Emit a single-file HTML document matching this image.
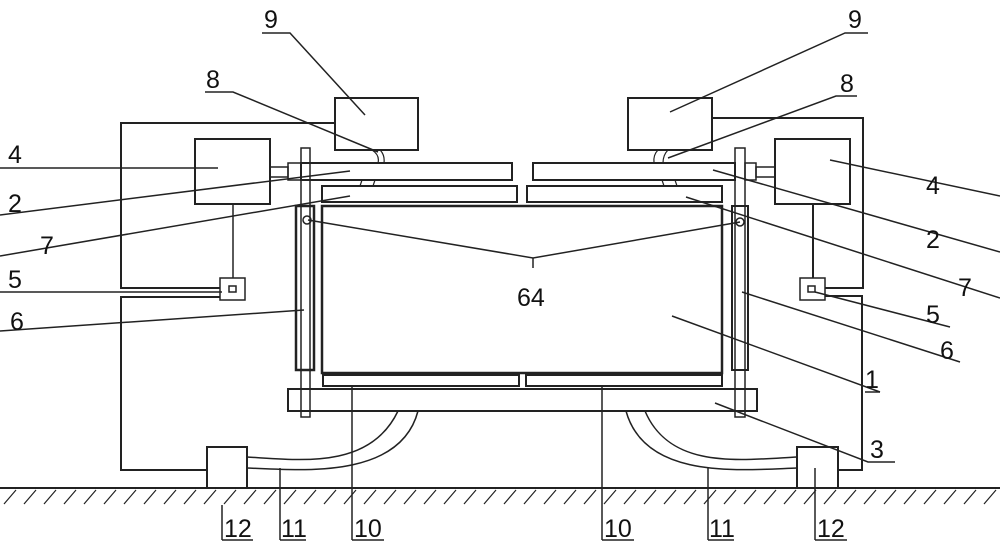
<!DOCTYPE html>
<html><head><style>html,body{margin:0;padding:0;background:#fff}svg{display:block}text{font-family:"Liberation Sans",sans-serif;font-size:25px;fill:#111}</style></head>
<body>
<svg width="1000" height="552" viewBox="0 0 1000 552" xmlns="http://www.w3.org/2000/svg">
<g fill="none" stroke="#222" stroke-width="2">
<!-- frames -->
<polyline points="335,123 121,123 121,288 220,288"/>
<polyline points="220,297 121,297 121,470 207,470"/>
<polyline points="712,118 863,118 863,288 825,288"/>
<polyline points="825,296 862,296 862,470 838,470"/>
<!-- boxes 9 -->
<rect x="335" y="98" width="83" height="52"/>
<rect x="628" y="98" width="84" height="52"/>
<!-- boxes 4 -->
<rect x="195" y="139" width="75" height="65"/>
<rect x="775" y="139" width="75" height="65"/>
<!-- shafts -->
<rect x="270" y="167" width="18" height="10" stroke-width="1.5"/>
<rect x="756" y="167" width="19" height="10" stroke-width="1.5"/>
<!-- collars -->
<rect x="288" y="163" width="13" height="17" stroke-width="1.5"/>
<rect x="745" y="163" width="11" height="17" stroke-width="1.5"/>
<!-- plates 2 -->
<rect x="301" y="163" width="211" height="17"/>
<rect x="533" y="163" width="202" height="17"/>
<!-- plates 7 -->
<rect x="322" y="186" width="195" height="16"/>
<rect x="527" y="186" width="195" height="16"/>
<!-- main box -->
<rect x="322" y="206" width="400" height="167" stroke-width="2.5"/>
<!-- plates 10 -->
<rect x="323" y="375" width="196" height="11"/>
<rect x="526" y="375" width="196" height="11"/>
<!-- base 3 -->
<rect x="288" y="389" width="469" height="22"/>
<!-- rods -->
<rect x="301" y="148" width="9" height="269" stroke-width="1.5"/>
<rect x="735" y="148" width="10" height="269" stroke-width="1.5"/>
<!-- cylinders 6 -->
<rect x="296" y="206" width="18" height="164" stroke-width="2.5"/>
<rect x="732" y="206" width="16" height="164" stroke-width="2"/>
<circle cx="307" cy="220" r="4" stroke-width="1.5"/>
<circle cx="740" cy="222" r="4" stroke-width="1.5"/>
<!-- wires -->
<line x1="233" y1="204" x2="233" y2="278" stroke-width="1.5"/>
<line x1="813" y1="204" x2="813" y2="278" stroke-width="2"/>
<!-- boxes 5 -->
<rect x="220" y="278" width="25" height="22" stroke-width="1.5"/>
<rect x="229" y="286" width="7" height="6" stroke-width="1.5"/>
<rect x="800" y="278" width="25" height="22" stroke-width="1.5"/>
<rect x="808" y="286" width="7" height="6" stroke-width="1.5"/>
<!-- boxes 12 -->
<rect x="207" y="447" width="40" height="41"/>
<rect x="797" y="447" width="41" height="41"/>
<!-- hoses 11 -->
<path d="M398,411 C370,470 300,460 247,457" stroke-width="1.5"/>
<path d="M418,411 C400,480 300,470 247,468" stroke-width="1.5"/>
<path d="M626,411 C645,480 740,470 797,468" stroke-width="1.5"/>
<path d="M645,411 C670,470 740,460 797,457" stroke-width="1.5"/>
<!-- small hose links -->
<path d="M372,150 q8,5 6,13 M380,150 q5,5 4,13 M362,180 l-2,6 M375,180 l-2,6" stroke-width="1.2"/>
<path d="M658,150 q-5,5 -4,13 M668,150 q-5,5 -5,13 M662,180 l2,6 M675,180 l2,6" stroke-width="1.2"/>
<!-- ground -->
<line x1="0" y1="488" x2="1000" y2="488"/>
</g>
<g stroke="#222" stroke-width="1.2" id="hatch">
<path d="M4,504 l12,-14 M24,504 l12,-14 M44,504 l12,-14 M64,504 l12,-14 M84,504 l12,-14 M104,504 l12,-14 M124,504 l12,-14 M144,504 l12,-14 M164,504 l12,-14 M184,504 l12,-14 M204,504 l12,-14 M224,504 l12,-14 M244,504 l12,-14 M264,504 l12,-14 M284,504 l12,-14 M304,504 l12,-14 M324,504 l12,-14 M344,504 l12,-14 M364,504 l12,-14 M384,504 l12,-14 M404,504 l12,-14 M424,504 l12,-14 M444,504 l12,-14 M464,504 l12,-14 M484,504 l12,-14 M504,504 l12,-14 M524,504 l12,-14 M544,504 l12,-14 M564,504 l12,-14 M584,504 l12,-14 M604,504 l12,-14 M624,504 l12,-14 M644,504 l12,-14 M664,504 l12,-14 M684,504 l12,-14 M704,504 l12,-14 M724,504 l12,-14 M744,504 l12,-14 M764,504 l12,-14 M784,504 l12,-14 M804,504 l12,-14 M824,504 l12,-14 M844,504 l12,-14 M864,504 l12,-14 M884,504 l12,-14 M904,504 l12,-14 M924,504 l12,-14 M944,504 l12,-14 M964,504 l12,-14 M984,504 l12,-14"/>
</g>
<!-- leader lines -->
<g fill="none" stroke="#222" stroke-width="1.5">
<polyline points="262,33 290,33 365,115"/>
<polyline points="205,92 233,92 378,152"/>
<polyline points="0,168 218,168"/>
<polyline points="0,215 350,171"/>
<polyline points="0,256 350,196"/>
<polyline points="0,292 222,292"/>
<polyline points="0,331 304,310"/>
<polyline points="868,33 845,33 670,112"/>
<polyline points="857,96 836,96 668,158"/>
<polyline points="1000,196 830,160"/>
<polyline points="1000,252 713,170"/>
<polyline points="1000,298 686,197"/>
<polyline points="950,327 815,292"/>
<polyline points="960,362 742,292"/>
<polyline points="880,392 672,316"/>
<polyline points="895,462 868,462 715,403"/>
<polyline points="308,220 533,258 740,222"/>
<line x1="533" y1="258" x2="533" y2="268"/>
<polyline points="222,540 222,505"/>
<polyline points="280,540 280,468"/>
<polyline points="352,540 352,386"/>
<polyline points="602,540 602,386"/>
<polyline points="708,540 708,468"/>
<polyline points="815,540 815,468"/>
<line x1="222" y1="540" x2="253" y2="540"/><line x1="280" y1="540" x2="306" y2="540"/>
<line x1="352" y1="540" x2="384" y2="540"/><line x1="602" y1="540" x2="634" y2="540"/>
<line x1="708" y1="540" x2="734" y2="540"/><line x1="815" y1="540" x2="847" y2="540"/>
<line x1="865" y1="392" x2="880" y2="392"/>
</g>
<text x="264" y="28">9</text>
<text x="206" y="88">8</text>
<text x="8" y="163">4</text>
<text x="8" y="212">2</text>
<text x="40" y="254">7</text>
<text x="8" y="288">5</text>
<text x="10" y="330">6</text>
<text x="848" y="28">9</text>
<text x="840" y="92">8</text>
<text x="926" y="194">4</text>
<text x="926" y="248">2</text>
<text x="958" y="296">7</text>
<text x="926" y="323">5</text>
<text x="940" y="359">6</text>
<text x="865" y="388">1</text>
<text x="870" y="458">3</text>
<text x="517" y="306">64</text>
<text x="224" y="537">12</text>
<text x="281" y="537">11</text>
<text x="354" y="537">10</text>
<text x="604" y="537">10</text>
<text x="709" y="537">11</text>
<text x="817" y="537">12</text>
</svg>
</body></html>
